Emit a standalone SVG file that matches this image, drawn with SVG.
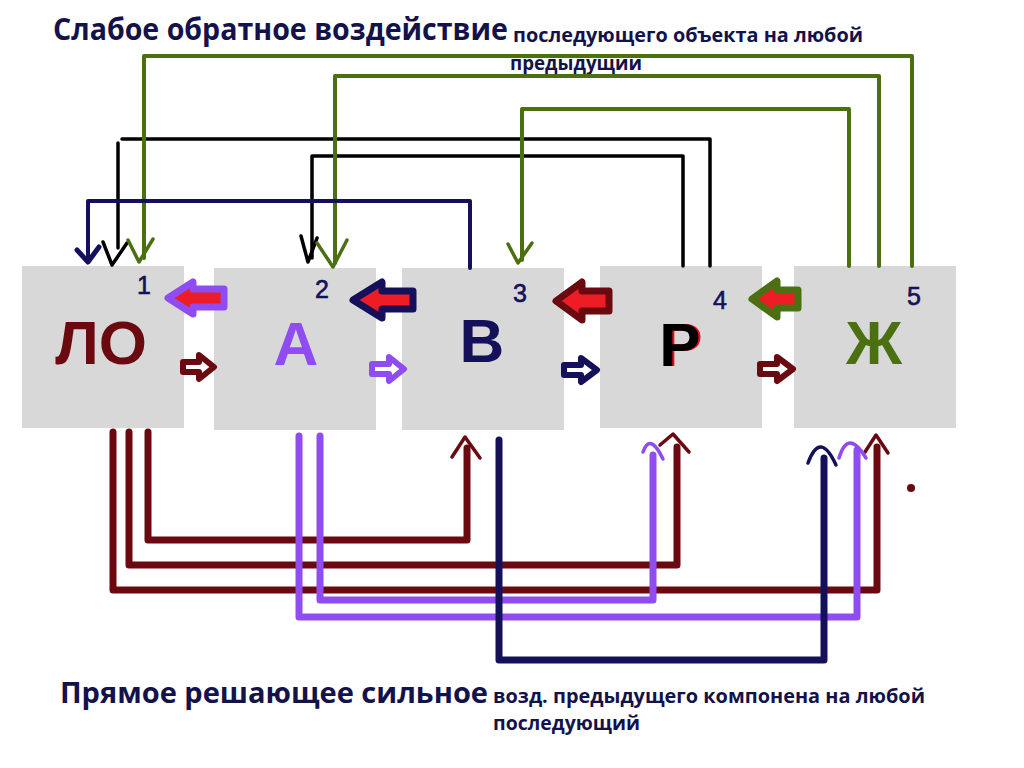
<svg xmlns="http://www.w3.org/2000/svg" width="1024" height="768" viewBox="0 0 1024 768">
<style>
.box{fill:#d8d8d8}
.lbl{font-family:"Liberation Sans",Arial,sans-serif;font-weight:bold;font-size:62px;text-anchor:middle}
.num{font-family:"Liberation Sans",Arial,sans-serif;font-size:25px;fill:#14115a;stroke:#14115a;stroke-width:0.6}
.ttl{font-family:"Open Sans","Liberation Sans",sans-serif;font-weight:bold;fill:#14124a}
.ln{fill:none;stroke-linecap:round;stroke-linejoin:round}
.top{stroke-width:4}
.blk{stroke:#000;stroke-width:3.5}
.grn{stroke:#4a7012}
.nvy{stroke:#14115a}
.dr{stroke:#6a0a10}
.pur{stroke:#8f4cf0}
.bot{stroke-width:7}
.hd{stroke-width:3.5}
.big{fill:#ee1c24;stroke-width:7;stroke-linejoin:round}
.sm{fill:#fff;stroke-width:6;stroke-linejoin:round}
</style>
<rect width="1024" height="768" fill="#fff"/>

<g id="titles">
<text class="ttl" x="53" y="40" font-size="30" textLength="455" lengthAdjust="spacingAndGlyphs">Слабое обратное воздействие</text>
<text class="ttl" x="513" y="42" font-size="19" textLength="350" lengthAdjust="spacingAndGlyphs">последующего объекта на любой</text>
<text class="ttl" x="510" y="70" font-size="19" textLength="132" lengthAdjust="spacingAndGlyphs">предыдущий</text>
<text class="ttl" x="60" y="703" font-size="29" textLength="428" lengthAdjust="spacingAndGlyphs">Прямое решающее сильное</text>
<text class="ttl" x="493" y="703" font-size="19" textLength="432" lengthAdjust="spacingAndGlyphs">возд. предыдущего компонена на любой</text>
<text class="ttl" x="493" y="730" font-size="19" textLength="147" lengthAdjust="spacingAndGlyphs">последующий</text>
</g>

<g id="node-LO">
<rect class="box" x="22" y="266" width="162" height="162"/>
<text class="lbl" x="101" y="364" fill="#6a0a10">ЛО</text>
<text class="num" x="137" y="294">1</text>
</g>
<g id="node-A">
<rect class="box" x="214" y="268" width="162" height="162"/>
<text class="lbl" x="296" y="365" fill="#8f4cf0">А</text>
<text class="num" x="315" y="298">2</text>
</g>
<g id="node-V">
<rect class="box" x="402" y="268" width="162" height="162"/>
<text class="lbl" x="482" y="362" fill="#14115a">В</text>
<text class="num" x="513" y="302">3</text>
</g>
<g id="node-R">
<rect class="box" x="600" y="266" width="162" height="162"/>
<text class="lbl" x="682" y="366" fill="#e01020">Р</text>
<text class="lbl" x="680" y="366" fill="#000">Р</text>
<text class="num" x="713" y="309">4</text>
</g>
<g id="node-Zh">
<rect class="box" x="794" y="266" width="162" height="162"/>
<text class="lbl" x="874" y="364" fill="#4a7012">Ж</text>
<text class="num" x="907" y="305">5</text>
</g>

<g id="connectors">
<path class="ln blk" d="M710,266 V139 H122"/>
<path class="ln blk" d="M118,143 V248"/>
<path class="ln blk" d="M103,242 L112,265 L127,243"/>
<path class="ln blk" d="M683,266 V156 H312 V258"/>
<path class="ln blk" d="M301,236 L308,262 L317,238"/>
<path class="ln top grn" d="M912,266 V56 H144 V258"/>
<path class="ln hd grn" d="M128,240 L139,262 L153,239"/>
<path class="ln top grn" d="M879,266 V76 H335 V263"/>
<path class="ln hd grn" d="M317,243 L333,267 L347,240"/>
<path class="ln top grn" d="M849,266 V109 H522 V260"/>
<path class="ln hd grn" d="M508,244 L518,263 L532,243"/>
<path class="ln top nvy" d="M470,268 V201 H88 V258"/>
<path class="ln nvy" stroke-width="5" d="M77,250 L88,262 L99,247"/>

<path class="ln bot dr" d="M148,432 V540 H467 V448"/>
<path class="ln hd dr" d="M452,457 L465,437 L480,458"/>
<path class="ln bot dr" d="M129,432 V565 H677 V447"/>
<path class="ln hd dr" d="M660,445 L673,434 L689,452"/>
<path class="ln bot dr" d="M113,432 V590 H877 V447"/>
<path class="ln hd dr" d="M865,452 L876,435 L888,453"/>
<path class="ln bot pur" d="M320,436 V600 H653 V455"/>
<path class="ln hd pur" d="M643,452 Q650,432 663,459"/>
<path class="ln bot pur" d="M299,436 V617 H857 V450"/>
<path class="ln hd pur" d="M839,458 Q848,428 866,458"/>
<path class="ln bot nvy" d="M499,440 V660 H824 V458"/>
<path class="ln hd nvy" d="M808,463 Q820,430 836,465"/>
<circle cx="911" cy="488" r="4" fill="#6a0a10"/>

<path class="big" stroke="#8f4cf0" d="M168,298 L193,282 L193,289 L224,289 L224,307 L193,307 L193,314 Z"/>
<path class="big" stroke="#14115a" d="M353,300 L382,282 L382,291 L413,291 L413,309 L382,309 L382,318 Z"/>
<path class="big" stroke="#6a0a10" d="M556,301 L582,282 L582,291 L609,291 L609,311 L582,311 L582,320 Z"/>
<path class="big" stroke="#4a7012" d="M752,299 L777,281 L777,290 L798,290 L798,308 L777,308 L777,317 Z"/>

<path class="sm" stroke="#6a0a10" d="M183,362 L199,362 L199,355 L214,367 L199,379 L199,372 L183,372 Z"/>
<path class="sm" stroke="#8f4cf0" d="M372,364 L389,364 L389,357 L404,369 L389,381 L389,374 L372,374 Z"/>
<path class="sm" stroke="#14115a" d="M564,365 L581,365 L581,358 L597,370 L581,382 L581,375 L564,375 Z"/>
<path class="sm" stroke="#6a0a10" d="M760,364 L777,364 L777,357 L793,369 L777,381 L777,374 L760,374 Z"/>
</g>
</svg>
